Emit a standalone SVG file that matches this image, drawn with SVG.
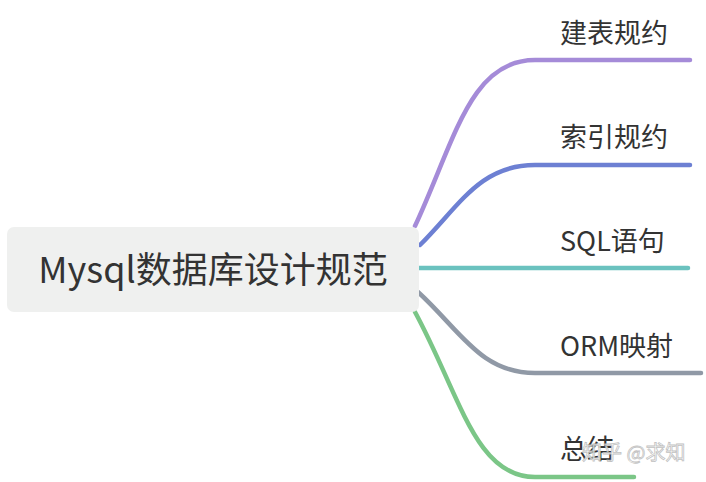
<svg xmlns="http://www.w3.org/2000/svg" width="706" height="482" viewBox="0 0 706 482">
<style>
.lbl{font-family:"Noto Sans CJK SC","Noto Sans",sans-serif;font-size:27px;fill:#333333}
.root{font-family:"Noto Sans CJK SC","Noto Sans",sans-serif;font-size:36px;fill:#333333}
.br{fill:none;stroke-width:4.5;stroke-linecap:round}
.wm{font-family:"Noto Sans CJK SC","Noto Sans",sans-serif;font-size:20px;fill:#ffffff;stroke:#bbbbbb;stroke-width:0.8;opacity:0.9}
</style>
<rect width="706" height="482" fill="#ffffff"/>
<g id="connectors">
<path class="br" stroke="#a58bd8" d="M415,226 C455,140 470,60 535,60 L690,60"/>
<path class="br" stroke="#6d80d3" d="M420,245 C460,205 480,165 535,165 L690,165"/>
<path class="br" stroke="#6bc2bf" d="M419,268 L688,268"/>
<path class="br" stroke="#9099a6" d="M418,292 C460,330 480,373 535,373 L701,373"/>
<path class="br" stroke="#7bc687" d="M415,312 C460,395 475,477 535,477 L634,477"/>
</g>
<g id="root">
<rect x="7" y="227" width="412" height="85" rx="7" fill="#eff0ef"/>
<text class="root" x="213" y="283" text-anchor="middle">Mysql数据库设计规范</text>
</g>
<g id="n1"><text class="lbl" x="560" y="43">建表规约</text></g>
<g id="n2"><text class="lbl" x="560" y="147">索引规约</text></g>
<g id="n3"><text class="lbl" x="560" y="251">SQL语句</text></g>
<g id="n4"><text class="lbl" x="560" y="356">ORM映射</text></g>
<g id="n5"><text class="lbl" x="560" y="459">总结</text></g>
<text class="wm" x="582" y="460">知乎 @求知</text>
</svg>
